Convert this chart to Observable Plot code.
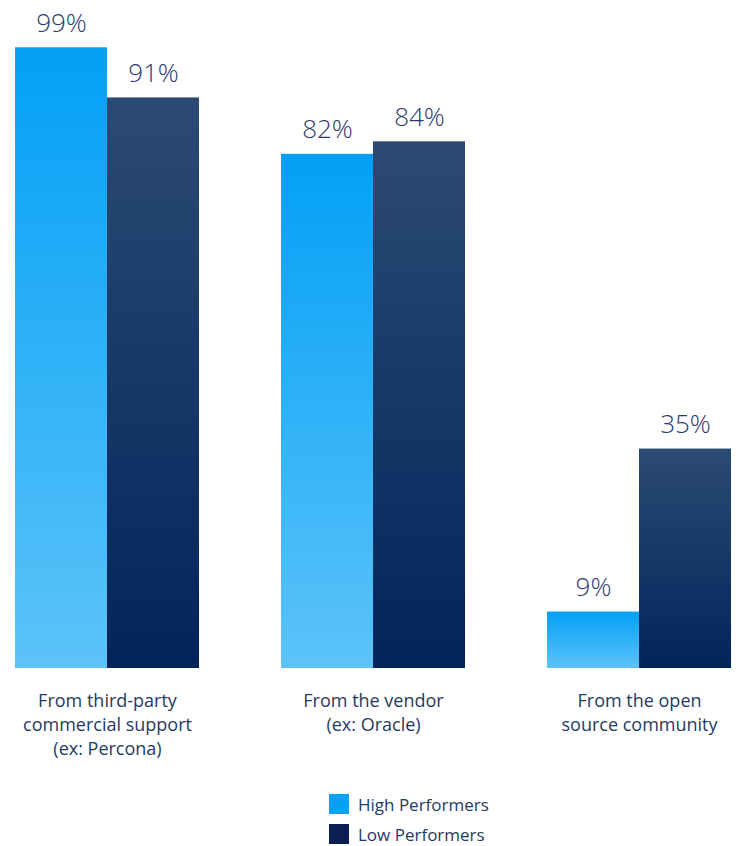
<!DOCTYPE html>
<html>
<head>
<meta charset="utf-8">
<script src="https://cdn.jsdelivr.net/npm/d3@7"></script>
<script src="https://cdn.jsdelivr.net/npm/@observablehq/plot@0.6"></script>
<style>
  body { margin: 0; background: #fff; font-family: "Open Sans", sans-serif; }
  #chart { width: 739px; }
  .legend { margin-left: 329px; margin-top: 29px; color: #1F3A63; font-size: 17px; }
  .legend .item { display: flex; align-items: center; height: 30px; }
  .legend .sw { width: 20px; height: 20px; margin-right: 9px; }
</style>
</head>
<body>
<div id="chart"></div>
<script>
const categories = ["From third-party\ncommercial support\n(ex: Percona)", "From the vendor\n(ex: Oracle)", "From the open\nsource community"];
const series = ["High Performers", "Low Performers"];
const highValues = [99, 82, 9];
const lowValues = [91, 84, 35];
const seriesColors = ["#06A0F5", "#0B1E54"];

const rows = [];
categories.forEach((c, i) => {
  rows.push({category: c, series: series[0], value: highValues[i]});
  rows.push({category: c, series: series[1], value: lowValues[i]});
});

const plot = Plot.plot({
  width: 739,
  height: 760,
  marginLeft: 14,
  marginRight: 8,
  marginTop: 41,
  marginBottom: 92,
  style: {fontFamily: "Open Sans, sans-serif", background: "transparent"},
  fx: {domain: categories, paddingInner: 0.31, paddingOuter: 0, axis: null},
  x: {domain: series, padding: 0, axis: null},
  y: {domain: [0, 100], axis: null},
  marks: [
    Plot.barY(rows.filter(d => d.series === series[0]), {fx: "category", x: "series", y: "value", fill: "url(#gradHigh)", inset: 0}),
    Plot.barY(rows.filter(d => d.series === series[1]), {fx: "category", x: "series", y: "value", fill: "url(#gradLow)", inset: 0}),
    Plot.text(rows, {fx: "category", x: "series", y: "value", text: d => d.value + "%", dy: -16, lineAnchor: "bottom", fontSize: 26, fill: "#2E3A6E", fontWeight: 300}),
    Plot.text(categories, {fx: d => d, text: d => d, frameAnchor: "bottom", lineAnchor: "top", dy: 22, fontSize: 18, lineHeight: 1.32, fill: "#1F3A63"})
  ]
});

const svg = d3.select(plot);
const defs = svg.insert("defs", ":first-child");
const g1 = defs.append("linearGradient").attr("id", "gradHigh").attr("x1", 0).attr("y1", 0).attr("x2", 0).attr("y2", 1);
g1.append("stop").attr("offset", "0%").attr("stop-color", "#03A0F6");
g1.append("stop").attr("offset", "100%").attr("stop-color", "#5CC3F9");
const g2 = defs.append("linearGradient").attr("id", "gradLow").attr("x1", 0).attr("y1", 0).attr("x2", 0).attr("y2", 1);
g2.append("stop").attr("offset", "0%").attr("stop-color", "#2B4B74");
g2.append("stop").attr("offset", "100%").attr("stop-color", "#02245A");

document.getElementById("chart").appendChild(plot);

const legend = d3.select("#chart").append("div").attr("class", "legend");
series.forEach((s, i) => {
  const item = legend.append("div").attr("class", "item");
  item.append("div").attr("class", "sw").style("background", seriesColors[i]);
  item.append("span").text(s);
});
</script>
</body>
</html>
